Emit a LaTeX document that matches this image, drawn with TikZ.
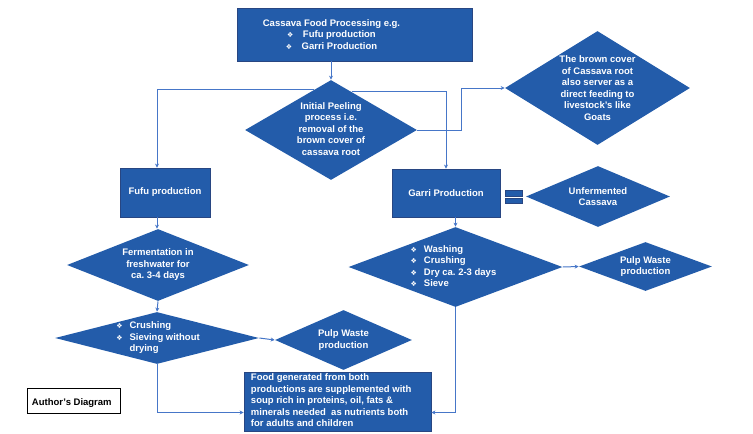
\documentclass[tikz,border=0pt]{standalone}
\usepackage{fontspec}
\setmainfont{Liberation Sans}
\newfontfamily\symfont{DejaVu Sans}
\usetikzlibrary{shapes.geometric,arrows.meta,calc}
\frenchspacing

\definecolor{boxblue}{RGB}{35,92,170}
\definecolor{edgeblue}{RGB}{40,70,130}
\definecolor{lineblue}{RGB}{70,118,200}

\newcommand{\bul}{{\symfont\scriptsize ❖}}

\tikzset{every picture/.style={line width=0.75pt}}
\tikzset{
  txt/.style={text=white,font=\bfseries\fontsize{9.5}{11.5}\selectfont,align=center,inner sep=0pt},
  blockbox/.style={rectangle,draw=edgeblue,fill=boxblue,line width=0.8pt,inner sep=0pt},
  dia/.style={diamond,draw=none,fill=boxblue,inner sep=0pt},
  arr/.style={draw=lineblue,line width=1pt,-{Stealth[length=4pt,width=4pt]}},
}

\begin{document}
\begin{tikzpicture}[x=1pt,y=1pt,yscale=-1,xscale=1]
  \useasboundingbox (0,0) rectangle (753,434);

  % boxes
  \node [blockbox,minimum width=235,minimum height=53] (top) at (354.5,34.5) {};
  \node [txt] (toptext) at ([xshift=-23]top.center) {Cassava Food Processing e.g.\\ \bul\quad Fufu production\\ \bul\quad Garri Production};
  \node [blockbox,minimum width=90,minimum height=49] (fufu) at (165,192.5) {};
  \node [txt] at (fufu.center) {Fufu production};
  \node [blockbox,minimum width=108,minimum height=48] (garri) at (446,193) {};
  \node [txt] at (garri.center) {Garri Production};
  \node [blockbox,minimum width=187,minimum height=59] (food) at (337.5,401.5) {};
  \node [txt,align=left,anchor=west] at ([xshift=7,yshift=-1]food.west) {Food generated from both\\ productions are supplemented with\\ soup rich in proteins, oil, fats \&\\ minerals needed\ \ as nutrients both\\ for adults and children};

  % diamonds
  \node [dia,minimum width=172,minimum height=100] (peel) at (331,130) {};
  \node [txt] at ([yshift=-1]peel.center) {Initial Peeling\\ process i.e.\\ removal of the\\ brown cover of\\ cassava root};
  \node [dia,minimum width=185,minimum height=114] (brown) at (597.5,88) {};
  \node [txt] at (brown.center) {The brown cover\\ of Cassava root\\ also server as a\\ direct feeding to\\ livestock's like\\ Goats};
  \node [dia,minimum width=144,minimum height=61] (unfer) at (598,196.5) {};
  \node [txt] at (unfer.center) {Unfermented\\ Cassava};
  \node [dia,minimum width=214,minimum height=80] (steps) at (455.5,267) {};
  \node [txt,align=left] at ([xshift=-2]steps.center) {\begin{tabular}{@{}l@{\hspace{7pt}}l@{}}\bul & Washing\\ \bul & Crushing\\ \bul & Dry ca. 2-3 days\\ \bul & Sieve\end{tabular}};
  \node [dia,minimum width=133,minimum height=49] (pulpR) at (645.5,266.5) {};
  \node [txt] at (pulpR.center) {Pulp Waste\\ production};
  \node [dia,minimum width=182,minimum height=72] (ferm) at (158,265) {};
  \node [txt] at (ferm.center) {Fermentation in\\ freshwater for\\ ca. 3-4 days};
  \node [dia,minimum width=204,minimum height=52] (crush) at (157,338) {};
  \node [txt,align=left] at ([xshift=1]crush.center) {\begin{tabular}{@{}l@{\hspace{7pt}}l@{}}\bul & Crushing\\ \bul & Sieving without\\ & drying\end{tabular}};
  \node [dia,minimum width=137,minimum height=60] (pulpL) at (343.5,340) {};
  \node [txt] at (pulpL.center) {Pulp Waste\\ production};

  % author box
  \node [rectangle,draw=black,fill=white,line width=0.8pt,minimum width=93,minimum height=25] (author) at (73.5,400.5) {};
  \node [font=\bfseries\fontsize{9.5}{11.5}\selectfont,anchor=west,inner sep=0pt] at ([xshift=5,yshift=3]author.west) {Author's Diagram};

  % equals sign
  \fill [boxblue,draw=edgeblue,line width=0.5pt] (505,190.5) rectangle (522,196);
  \fill [boxblue,draw=edgeblue,line width=0.5pt] (505,198) rectangle (522,203.5);

  % connectors
  \coordinate (colL) at (157,0);
  \coordinate (join) at (0,412.5);
  \draw [arr] (top.south -| peel.north) -- (peel.north);
  \draw [arr] ($(peel.north)!0.2!(peel.west)$) -| (colL |- fufu.north);
  \draw [arr] ($(peel.north)!0.24!(peel.east)$) -| (garri.north);
  \draw [arr] (peel.east) -- ++(44,0) |- (brown.west);
  \draw [arr] (colL |- fufu.south) -- (colL |- ferm.north);
  \draw [arr] (ferm.south) -- (crush.north);
  \draw [arr] (crush.east) -- (pulpL.west);
  \draw [arr] (crush.south) |- (food.west |- join);
  \draw [arr] (steps.north |- garri.south) -- (steps.north);
  \draw [arr] (steps.east) -- (pulpR.west);
  \draw [arr] (steps.south) |- (food.east |- join);
\end{tikzpicture}
\end{document}
